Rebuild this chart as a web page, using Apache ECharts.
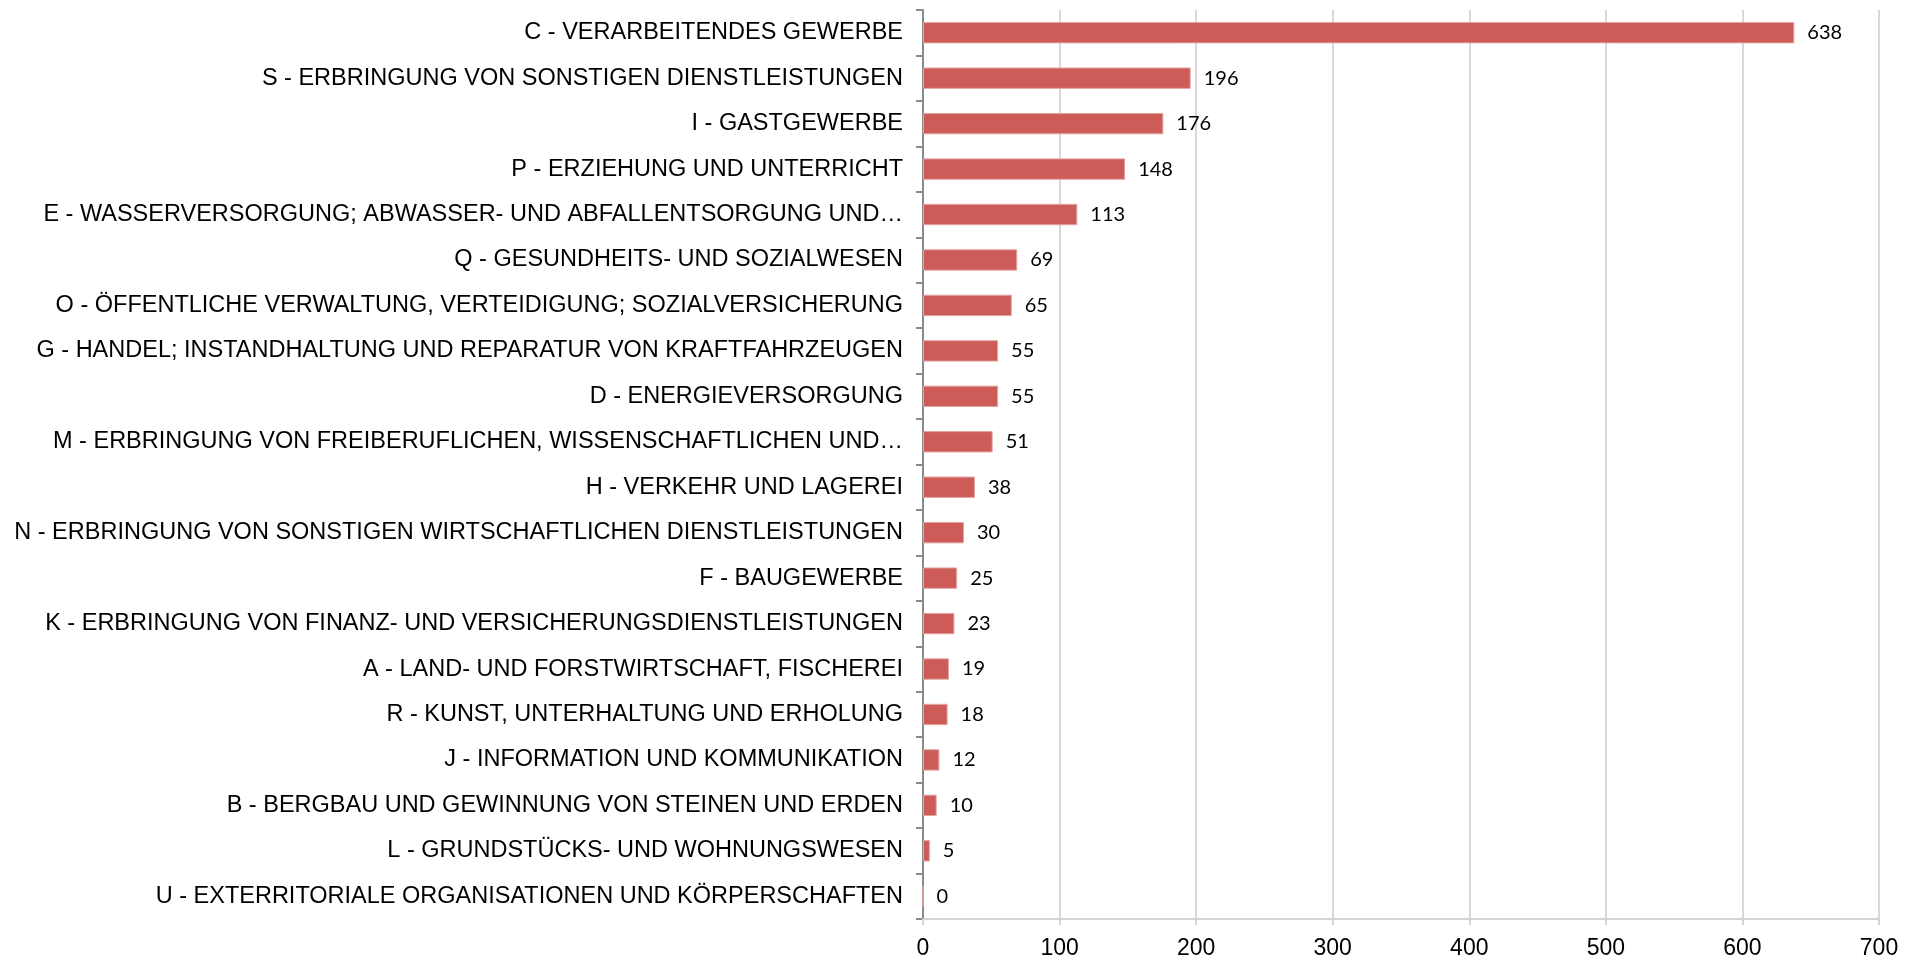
<!DOCTYPE html>
<html>
<head>
<meta charset="utf-8">
<script src="https://cdn.jsdelivr.net/npm/echarts@6/dist/echarts.min.js"></script>
<style>
  html, body { margin: 0; padding: 0; background: #ffffff; }
  #chart { width: 1916px; height: 960px; }
</style>
</head>
<body>
<div id="chart"></div>
<script>
// Wirtschaftszweige (WZ 2008 Abschnitte), absteigend sortiert
const categories = [
  'C - VERARBEITENDES GEWERBE',
  'S - ERBRINGUNG VON SONSTIGEN DIENSTLEISTUNGEN',
  'I - GASTGEWERBE',
  'P - ERZIEHUNG UND UNTERRICHT',
  'E - WASSERVERSORGUNG; ABWASSER- UND ABFALLENTSORGUNG UND…',
  'Q - GESUNDHEITS- UND SOZIALWESEN',
  'O - ÖFFENTLICHE VERWALTUNG, VERTEIDIGUNG; SOZIALVERSICHERUNG',
  'G - HANDEL; INSTANDHALTUNG UND REPARATUR VON KRAFTFAHRZEUGEN',
  'D - ENERGIEVERSORGUNG',
  'M - ERBRINGUNG VON FREIBERUFLICHEN, WISSENSCHAFTLICHEN UND…',
  'H - VERKEHR UND LAGEREI',
  'N - ERBRINGUNG VON SONSTIGEN WIRTSCHAFTLICHEN DIENSTLEISTUNGEN',
  'F - BAUGEWERBE',
  'K - ERBRINGUNG VON FINANZ- UND VERSICHERUNGSDIENSTLEISTUNGEN',
  'A - LAND- UND FORSTWIRTSCHAFT, FISCHEREI',
  'R - KUNST, UNTERHALTUNG UND ERHOLUNG',
  'J - INFORMATION UND KOMMUNIKATION',
  'B - BERGBAU UND GEWINNUNG VON STEINEN UND ERDEN',
  'L - GRUNDSTÜCKS- UND WOHNUNGSWESEN',
  'U - EXTERRITORIALE ORGANISATIONEN UND KÖRPERSCHAFTEN'
];
const values = [638, 196, 176, 148, 113, 69, 65, 55, 55, 51, 38, 30, 25, 23, 19, 18, 12, 10, 5, 0];

// Werteachse
const xMin = 0;
const xMax = 700;
const xStep = 100;

const axisFont = "'Liberation Sans', Arial, sans-serif";

const chart = echarts.init(document.getElementById('chart'), null, { renderer: 'canvas' });

chart.setOption({
  animation: false,
  backgroundColor: '#ffffff',
  grid: { left: 923, right: 37, top: 10, bottom: 39, containLabel: false },
  xAxis: {
    type: 'value',
    min: xMin,
    max: xMax,
    interval: xStep,
    axisLine: { show: true, lineStyle: { color: '#d4d4d4', width: 2 } },
    axisTick: { show: true, length: 6, lineStyle: { color: '#d4d4d4', width: 2 } },
    splitLine: { show: true, lineStyle: { color: '#d9d9d9', width: 2 } },
    axisLabel: {
      margin: 18,
      color: '#000000',
      fontFamily: axisFont,
      fontSize: 23
    }
  },
  yAxis: {
    type: 'category',
    inverse: true,
    data: categories,
    axisLine: { show: true, lineStyle: { color: '#8a8a8a', width: 2 } },
    axisTick: { show: true, length: 7, lineStyle: { color: '#8a8a8a', width: 2 } },
    axisLabel: {
      margin: 20,
      color: '#000000',
      fontFamily: axisFont,
      fontSize: 23.5,
      padding: [3, 0, 0, 0]
    }
  },
  series: [{
    type: 'bar',
    data: values,
    barWidth: '47%',
    itemStyle: { color: '#cd5b58', borderColor: '#e3a3a1', borderWidth: 1 },
    label: {
      show: true,
      position: 'right',
      distance: 13,
      color: '#000000',
      fontFamily: 'Lato, sans-serif',
      fontSize: 20,
      padding: [2, 0, 0, 0]
    }
  }]
});
</script>
</body>
</html>
